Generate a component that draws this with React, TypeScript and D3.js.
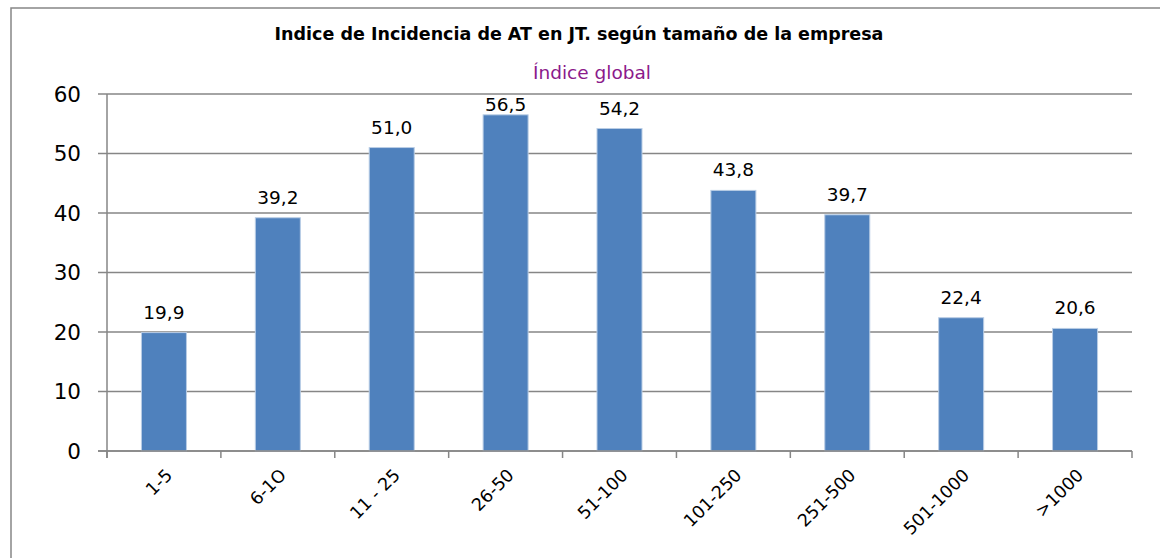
import { useEffect, useRef } from "react";
import * as d3 from "d3";

const categories = ["1-5", "6-1O", "11 - 25", "26-50", "51-100", "101-250", "251-500", "501-1000", ">1000"];
const values = [19.9, 39.2, 51.0, 56.5, 54.2, 43.8, 39.7, 22.4, 20.6];
const yTicks = [0, 10, 20, 30, 40, 50, 60];
const chartTitle = "Indice de Incidencia de AT en JT. según tamaño de la empresa";
const seriesName = "Índice global";

const W = 1160;
const H = 558;

function drawChart(svgEl: SVGSVGElement) {
  const svg = d3.select(svgEl);
  svg.selectAll("*").remove();
  const font = "'DejaVu Sans', sans-serif";

  const left = 107;
  const right = 1132;
  const top = 94;
  const bottom = 451;
  const grey = "#868686";

  // outer frame
  svg
    .append("rect")
    .attr("x", 11)
    .attr("y", 8)
    .attr("width", W + 20)
    .attr("height", H + 20)
    .attr("fill", "#fff")
    .attr("stroke", grey)
    .attr("stroke-width", 1.5);

  const band = d3.scaleBand().domain(categories).range([left, right]);
  const y = d3.scaleLinear().domain([0, 60]).range([bottom, top]);

  // gridlines
  svg
    .append("g")
    .selectAll("line")
    .data(yTicks)
    .join("line")
    .attr("x1", left - 9)
    .attr("x2", right)
    .attr("y1", (d) => y(d))
    .attr("y2", (d) => y(d))
    .attr("stroke", grey)
    .attr("stroke-width", 1.5);

  // y labels
  svg
    .append("g")
    .attr("font-family", font)
    .attr("font-size", 21.5)
    .attr("fill", "#000")
    .selectAll("text")
    .data(yTicks)
    .join("text")
    .attr("x", 81)
    .attr("y", (d) => y(d))
    .attr("dy", "0.36em")
    .attr("text-anchor", "end")
    .text((d) => d);

  // bars
  const bw = 45;
  svg
    .append("g")
    .selectAll("rect")
    .data(values)
    .join("rect")
    .attr("x", (d, i) => band(categories[i])! + band.bandwidth() / 2 - bw / 2)
    .attr("y", (d) => y(d))
    .attr("width", bw)
    .attr("height", (d) => y(0) - y(d))
    .attr("fill", "#4F81BD")
    .attr("stroke", "#b9cde5")
    .attr("stroke-width", 1);

  // axis lines
  svg
    .append("line")
    .attr("x1", left)
    .attr("x2", left)
    .attr("y1", top)
    .attr("y2", bottom + 7)
    .attr("stroke", grey)
    .attr("stroke-width", 1.5);
  svg
    .append("line")
    .attr("x1", left - 9)
    .attr("x2", right)
    .attr("y1", bottom)
    .attr("y2", bottom)
    .attr("stroke", grey)
    .attr("stroke-width", 1.5);

  // x ticks
  const tickXs = categories.map((c) => band(c)!).concat([right]);
  svg
    .append("g")
    .selectAll("line")
    .data(tickXs)
    .join("line")
    .attr("x1", (d) => d)
    .attr("x2", (d) => d)
    .attr("y1", bottom)
    .attr("y2", bottom + 7)
    .attr("stroke", grey)
    .attr("stroke-width", 1.5);

  // value labels
  svg
    .append("g")
    .attr("font-family", font)
    .attr("font-size", 18.5)
    .attr("fill", "#000")
    .attr("text-anchor", "middle")
    .selectAll("text")
    .data(values)
    .join("text")
    .attr("x", (d, i) => band(categories[i])! + band.bandwidth() / 2)
    .attr("y", (d) => Math.max(y(d) - 14, top + 17))
    .text((d) => d3.format(".1f")(d).replace(".", ","));

  // x labels
  svg
    .append("g")
    .attr("font-family", font)
    .attr("font-size", 17.5)
    .attr("fill", "#000")
    .attr("text-anchor", "end")
    .selectAll("text")
    .data(categories)
    .join("text")
    .attr("transform", (d) => {
      const cx = band(d)! + band.bandwidth() / 2 + 5;
      const cy = bottom + 21;
      return `translate(${cx},${cy}) rotate(-45)`;
    })
    .attr("dy", "0.35em")
    .text((d) => d);

  // title
  svg
    .append("text")
    .attr("x", 579)
    .attr("y", 40)
    .attr("text-anchor", "middle")
    .attr("font-family", font)
    .attr("font-weight", "bold")
    .attr("font-size", 17.5)
    .attr("fill", "#000")
    .text(chartTitle);

  svg
    .append("text")
    .attr("x", 592)
    .attr("y", 79)
    .attr("text-anchor", "middle")
    .attr("font-family", font)
    .attr("font-size", 18.5)
    .attr("fill", "#8B1A8B")
    .text(seriesName);
}

export default function App() {
  const ref = useRef<SVGSVGElement>(null);
  useEffect(() => {
    if (ref.current) drawChart(ref.current);
  }, []);
  return (
    <svg
      ref={ref}
      width={W}
      height={H}
      style={{ position: "absolute", left: 0, top: 0, background: "#fff" }}
    />
  );
}
